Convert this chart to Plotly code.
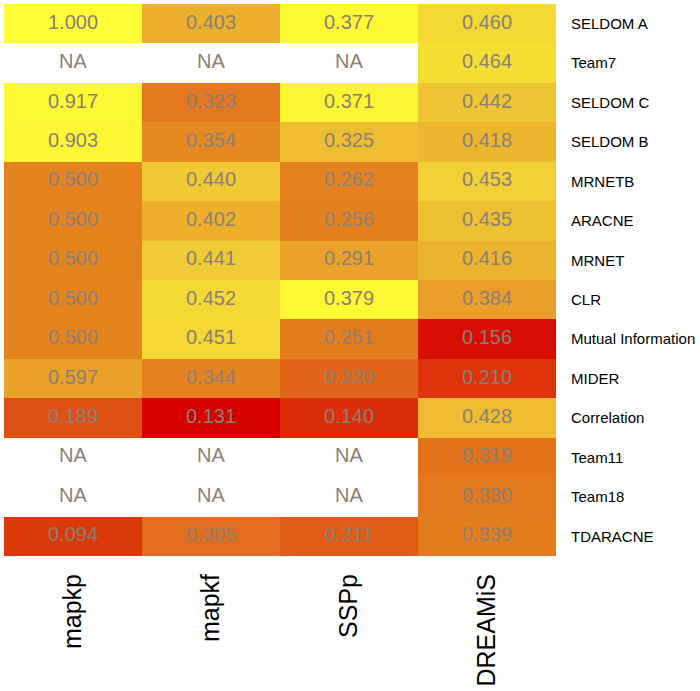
import numpy as np
import plotly.graph_objects as go

methods = ["SELDOM A", "Team7", "SELDOM C", "SELDOM B", "MRNETB", "ARACNE", "MRNET",
           "CLR", "Mutual Information", "MIDER", "Correlation", "Team11", "Team18", "TDARACNE"]
datasets = ["mapkp", "mapkf", "SSPp", "DREAMiS"]

mapkp = [1.000, None, 0.917, 0.903, 0.500, 0.500, 0.500, 0.500, 0.500, 0.597, 0.189, None, None, 0.094]
mapkf = [0.403, None, 0.323, 0.354, 0.440, 0.402, 0.441, 0.452, 0.451, 0.344, 0.131, None, None, 0.305]
SSPp = [0.377, None, 0.371, 0.325, 0.262, 0.256, 0.291, 0.379, 0.251, 0.220, 0.140, None, None, 0.211]
DREAMiS = [0.460, 0.464, 0.442, 0.418, 0.453, 0.435, 0.416, 0.384, 0.156, 0.210, 0.428, 0.319, 0.330, 0.339]

cols = [mapkp, mapkf, SSPp, DREAMiS]

# colour is scaled per column (z-score), like heatmap(scale="column")
def zscore(col):
    v = np.array([np.nan if c is None else c for c in col], dtype=float)
    return (v - np.nanmean(v)) / np.nanstd(v, ddof=1)

zcols = [zscore(c) for c in cols]
z = [[None if np.isnan(zcols[j][i]) else float(zcols[j][i]) for j in range(4)] for i in range(len(methods))]
txt = [["NA" if cols[j][i] is None else "%.3f" % cols[j][i] for j in range(4)] for i in range(len(methods))]

zmin, zmax = -2.5, 1.6
stops = [(-2.5, "#d70000"), (-1.7, "#dc360a"), (-1.3, "#de5013"), (-0.9, "#e05c17"),
         (-0.6, "#e3721d"), (-0.2, "#e5841f"), (0.1, "#eaa02a"), (0.4, "#edb22e"),
         (0.75, "#f1c835"), (0.95, "#f5e034"), (1.2, "#fcf834"), (1.6, "#ffff3a")]
cscale = [[(s - zmin) / (zmax - zmin), c] for s, c in stops]

fig = go.Figure()
fig.add_trace(go.Heatmap(z=z, x=datasets, y=methods, colorscale=cscale, zmin=zmin, zmax=zmax,
                         showscale=False, hoverinfo="skip", xgap=0, ygap=0))

# cell labels (including NA cells)
tx, ty, tt = [], [], []
for i, m in enumerate(methods):
    for j, d in enumerate(datasets):
        tx.append(d)
        ty.append(m)
        tt.append(txt[i][j])
fig.add_trace(go.Scatter(x=tx, y=ty, text=tt, mode="text",
                         textfont=dict(size=20, color="#8a8075", family="Liberation Sans"),
                         hoverinfo="skip", showlegend=False))

fig.update_layout(
    width=700, height=691,
    margin=dict(l=4, r=144, t=4, b=132),
    paper_bgcolor="white", plot_bgcolor="white",
    font=dict(family="Liberation Sans", color="black"),
)
fig.update_xaxes(range=[-0.5, 3.5], tickangle=-90, tickfont=dict(size=25), ticks="", showgrid=False,
                 zeroline=False, showline=False, ticklabelstandoff=12)
fig.update_yaxes(range=[13.5, -0.5], side="right", tickfont=dict(size=15), ticks="",
                 showgrid=False, zeroline=False, showline=False, ticklabelstandoff=14)

fig.write_html("out.html", config={"displayModeBar": False},
               post_script="document.body.style.margin='0';")
